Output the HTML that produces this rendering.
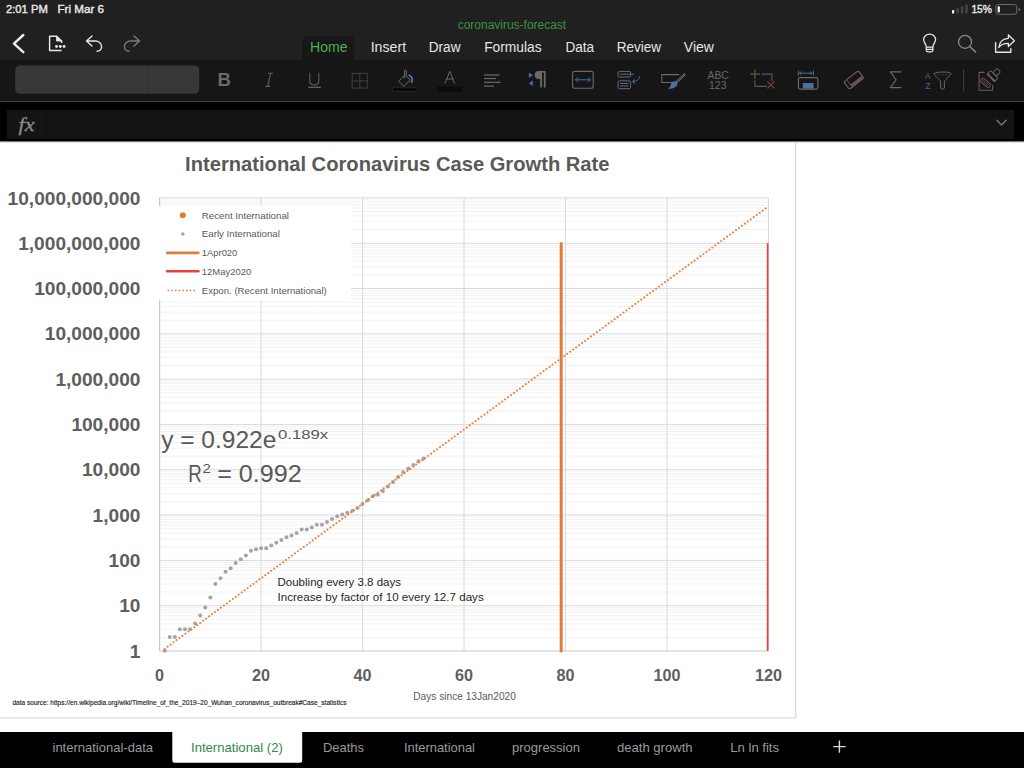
<!DOCTYPE html>
<html><head><meta charset="utf-8"><title>coronavirus-forecast</title>
<style>
html,body{margin:0;padding:0;width:1024px;height:768px;overflow:hidden;background:#fff;}
svg{position:absolute;left:0;top:0;display:block}
text{font-family:"Liberation Sans", Arial, sans-serif;}
.mn{stroke:#F2F2F2;stroke-width:1}
.mj{stroke:#D9D9D9;stroke-width:1}
.ax{stroke:#C8C8C8;stroke-width:1.2}
.ui{fill:none;stroke-linecap:round;stroke-linejoin:round}
</style></head>
<body>
<svg width="1024" height="768" viewBox="0 0 1024 768">
<defs><clipPath id="pc"><rect x="159.6" y="197.9" width="608.9" height="453.1"/></clipPath></defs>
<!-- sheet -->
<rect x="0" y="141" width="1024" height="591" fill="#fff"/>
<line x1="159.60" y1="637.36" x2="768.50" y2="637.36" class="mn"/>
<line x1="159.60" y1="629.38" x2="768.50" y2="629.38" class="mn"/>
<line x1="159.60" y1="623.72" x2="768.50" y2="623.72" class="mn"/>
<line x1="159.60" y1="619.33" x2="768.50" y2="619.33" class="mn"/>
<line x1="159.60" y1="615.74" x2="768.50" y2="615.74" class="mn"/>
<line x1="159.60" y1="612.71" x2="768.50" y2="612.71" class="mn"/>
<line x1="159.60" y1="610.08" x2="768.50" y2="610.08" class="mn"/>
<line x1="159.60" y1="607.76" x2="768.50" y2="607.76" class="mn"/>
<line x1="159.60" y1="592.05" x2="768.50" y2="592.05" class="mn"/>
<line x1="159.60" y1="584.07" x2="768.50" y2="584.07" class="mn"/>
<line x1="159.60" y1="578.41" x2="768.50" y2="578.41" class="mn"/>
<line x1="159.60" y1="574.02" x2="768.50" y2="574.02" class="mn"/>
<line x1="159.60" y1="570.43" x2="768.50" y2="570.43" class="mn"/>
<line x1="159.60" y1="567.40" x2="768.50" y2="567.40" class="mn"/>
<line x1="159.60" y1="564.77" x2="768.50" y2="564.77" class="mn"/>
<line x1="159.60" y1="562.45" x2="768.50" y2="562.45" class="mn"/>
<line x1="159.60" y1="546.74" x2="768.50" y2="546.74" class="mn"/>
<line x1="159.60" y1="538.76" x2="768.50" y2="538.76" class="mn"/>
<line x1="159.60" y1="533.10" x2="768.50" y2="533.10" class="mn"/>
<line x1="159.60" y1="528.71" x2="768.50" y2="528.71" class="mn"/>
<line x1="159.60" y1="525.12" x2="768.50" y2="525.12" class="mn"/>
<line x1="159.60" y1="522.09" x2="768.50" y2="522.09" class="mn"/>
<line x1="159.60" y1="519.46" x2="768.50" y2="519.46" class="mn"/>
<line x1="159.60" y1="517.14" x2="768.50" y2="517.14" class="mn"/>
<line x1="159.60" y1="501.43" x2="768.50" y2="501.43" class="mn"/>
<line x1="159.60" y1="493.45" x2="768.50" y2="493.45" class="mn"/>
<line x1="159.60" y1="487.79" x2="768.50" y2="487.79" class="mn"/>
<line x1="159.60" y1="483.40" x2="768.50" y2="483.40" class="mn"/>
<line x1="159.60" y1="479.81" x2="768.50" y2="479.81" class="mn"/>
<line x1="159.60" y1="476.78" x2="768.50" y2="476.78" class="mn"/>
<line x1="159.60" y1="474.15" x2="768.50" y2="474.15" class="mn"/>
<line x1="159.60" y1="471.83" x2="768.50" y2="471.83" class="mn"/>
<line x1="159.60" y1="456.12" x2="768.50" y2="456.12" class="mn"/>
<line x1="159.60" y1="448.14" x2="768.50" y2="448.14" class="mn"/>
<line x1="159.60" y1="442.48" x2="768.50" y2="442.48" class="mn"/>
<line x1="159.60" y1="438.09" x2="768.50" y2="438.09" class="mn"/>
<line x1="159.60" y1="434.50" x2="768.50" y2="434.50" class="mn"/>
<line x1="159.60" y1="431.47" x2="768.50" y2="431.47" class="mn"/>
<line x1="159.60" y1="428.84" x2="768.50" y2="428.84" class="mn"/>
<line x1="159.60" y1="426.52" x2="768.50" y2="426.52" class="mn"/>
<line x1="159.60" y1="410.81" x2="768.50" y2="410.81" class="mn"/>
<line x1="159.60" y1="402.83" x2="768.50" y2="402.83" class="mn"/>
<line x1="159.60" y1="397.17" x2="768.50" y2="397.17" class="mn"/>
<line x1="159.60" y1="392.78" x2="768.50" y2="392.78" class="mn"/>
<line x1="159.60" y1="389.19" x2="768.50" y2="389.19" class="mn"/>
<line x1="159.60" y1="386.16" x2="768.50" y2="386.16" class="mn"/>
<line x1="159.60" y1="383.53" x2="768.50" y2="383.53" class="mn"/>
<line x1="159.60" y1="381.21" x2="768.50" y2="381.21" class="mn"/>
<line x1="159.60" y1="365.50" x2="768.50" y2="365.50" class="mn"/>
<line x1="159.60" y1="357.52" x2="768.50" y2="357.52" class="mn"/>
<line x1="159.60" y1="351.86" x2="768.50" y2="351.86" class="mn"/>
<line x1="159.60" y1="347.47" x2="768.50" y2="347.47" class="mn"/>
<line x1="159.60" y1="343.88" x2="768.50" y2="343.88" class="mn"/>
<line x1="159.60" y1="340.85" x2="768.50" y2="340.85" class="mn"/>
<line x1="159.60" y1="338.22" x2="768.50" y2="338.22" class="mn"/>
<line x1="159.60" y1="335.90" x2="768.50" y2="335.90" class="mn"/>
<line x1="159.60" y1="320.19" x2="768.50" y2="320.19" class="mn"/>
<line x1="159.60" y1="312.21" x2="768.50" y2="312.21" class="mn"/>
<line x1="159.60" y1="306.55" x2="768.50" y2="306.55" class="mn"/>
<line x1="159.60" y1="302.16" x2="768.50" y2="302.16" class="mn"/>
<line x1="159.60" y1="298.57" x2="768.50" y2="298.57" class="mn"/>
<line x1="159.60" y1="295.54" x2="768.50" y2="295.54" class="mn"/>
<line x1="159.60" y1="292.91" x2="768.50" y2="292.91" class="mn"/>
<line x1="159.60" y1="290.59" x2="768.50" y2="290.59" class="mn"/>
<line x1="159.60" y1="274.88" x2="768.50" y2="274.88" class="mn"/>
<line x1="159.60" y1="266.90" x2="768.50" y2="266.90" class="mn"/>
<line x1="159.60" y1="261.24" x2="768.50" y2="261.24" class="mn"/>
<line x1="159.60" y1="256.85" x2="768.50" y2="256.85" class="mn"/>
<line x1="159.60" y1="253.26" x2="768.50" y2="253.26" class="mn"/>
<line x1="159.60" y1="250.23" x2="768.50" y2="250.23" class="mn"/>
<line x1="159.60" y1="247.60" x2="768.50" y2="247.60" class="mn"/>
<line x1="159.60" y1="245.28" x2="768.50" y2="245.28" class="mn"/>
<line x1="159.60" y1="229.57" x2="768.50" y2="229.57" class="mn"/>
<line x1="159.60" y1="221.59" x2="768.50" y2="221.59" class="mn"/>
<line x1="159.60" y1="215.93" x2="768.50" y2="215.93" class="mn"/>
<line x1="159.60" y1="211.54" x2="768.50" y2="211.54" class="mn"/>
<line x1="159.60" y1="207.95" x2="768.50" y2="207.95" class="mn"/>
<line x1="159.60" y1="204.92" x2="768.50" y2="204.92" class="mn"/>
<line x1="159.60" y1="202.29" x2="768.50" y2="202.29" class="mn"/>
<line x1="159.60" y1="199.97" x2="768.50" y2="199.97" class="mn"/>
<line x1="159.60" y1="605.69" x2="768.50" y2="605.69" class="mj"/>
<line x1="159.60" y1="560.38" x2="768.50" y2="560.38" class="mj"/>
<line x1="159.60" y1="515.07" x2="768.50" y2="515.07" class="mj"/>
<line x1="159.60" y1="469.76" x2="768.50" y2="469.76" class="mj"/>
<line x1="159.60" y1="424.45" x2="768.50" y2="424.45" class="mj"/>
<line x1="159.60" y1="379.14" x2="768.50" y2="379.14" class="mj"/>
<line x1="159.60" y1="333.83" x2="768.50" y2="333.83" class="mj"/>
<line x1="159.60" y1="288.52" x2="768.50" y2="288.52" class="mj"/>
<line x1="159.60" y1="243.21" x2="768.50" y2="243.21" class="mj"/>
<line x1="159.60" y1="197.90" x2="768.50" y2="197.90" class="mj"/>
<line x1="261.08" y1="197.90" x2="261.08" y2="651.00" class="mj"/>
<line x1="362.57" y1="197.90" x2="362.57" y2="651.00" class="mj"/>
<line x1="464.05" y1="197.90" x2="464.05" y2="651.00" class="mj"/>
<line x1="565.53" y1="197.90" x2="565.53" y2="651.00" class="mj"/>
<line x1="667.02" y1="197.90" x2="667.02" y2="651.00" class="mj"/>
<line x1="768.50" y1="197.90" x2="768.50" y2="651.00" class="mj"/>
<line x1="159.60" y1="197.90" x2="159.60" y2="651.00" class="ax"/>
<line x1="159.60" y1="651.00" x2="768.50" y2="651.00" class="ax"/>
<line x1="561.2" y1="651.00" x2="561.2" y2="243.51" stroke="#E07B39" stroke-width="3" stroke-linecap="round"/>
<line x1="768.30" y1="651.00" x2="768.30" y2="243.21" stroke="#E8413A" stroke-width="3" clip-path="url(#pc)"/>
<circle cx="164.67" cy="650.70" r="2" fill="#A5A5A5"/>
<circle cx="169.75" cy="637.09" r="2" fill="#A5A5A5"/>
<circle cx="174.82" cy="637.09" r="2" fill="#A5A5A5"/>
<circle cx="179.90" cy="629.13" r="2" fill="#A5A5A5"/>
<circle cx="184.97" cy="629.13" r="2" fill="#A5A5A5"/>
<circle cx="190.04" cy="629.13" r="2" fill="#A5A5A5"/>
<circle cx="195.12" cy="623.49" r="2" fill="#A5A5A5"/>
<circle cx="200.19" cy="615.53" r="2" fill="#A5A5A5"/>
<circle cx="205.27" cy="607.57" r="2" fill="#A5A5A5"/>
<circle cx="210.34" cy="597.54" r="2" fill="#A5A5A5"/>
<circle cx="215.42" cy="583.93" r="2" fill="#A5A5A5"/>
<circle cx="220.49" cy="578.29" r="2" fill="#A5A5A5"/>
<circle cx="225.56" cy="571.68" r="2" fill="#A5A5A5"/>
<circle cx="230.64" cy="568.16" r="2" fill="#A5A5A5"/>
<circle cx="235.71" cy="563.03" r="2" fill="#A5A5A5"/>
<circle cx="240.79" cy="559.34" r="2" fill="#A5A5A5"/>
<circle cx="245.86" cy="555.61" r="2" fill="#A5A5A5"/>
<circle cx="250.94" cy="550.83" r="2" fill="#A5A5A5"/>
<circle cx="256.01" cy="549.20" r="2" fill="#A5A5A5"/>
<circle cx="261.08" cy="548.22" r="2" fill="#A5A5A5"/>
<circle cx="266.16" cy="548.22" r="2" fill="#A5A5A5"/>
<circle cx="271.23" cy="545.55" r="2" fill="#A5A5A5"/>
<circle cx="276.31" cy="542.71" r="2" fill="#A5A5A5"/>
<circle cx="281.38" cy="540.09" r="2" fill="#A5A5A5"/>
<circle cx="286.45" cy="537.28" r="2" fill="#A5A5A5"/>
<circle cx="291.53" cy="535.43" r="2" fill="#A5A5A5"/>
<circle cx="296.60" cy="532.99" r="2" fill="#A5A5A5"/>
<circle cx="301.68" cy="529.59" r="2" fill="#A5A5A5"/>
<circle cx="306.75" cy="529.59" r="2" fill="#A5A5A5"/>
<circle cx="311.82" cy="527.49" r="2" fill="#A5A5A5"/>
<circle cx="316.90" cy="524.80" r="2" fill="#A5A5A5"/>
<circle cx="321.97" cy="524.80" r="2" fill="#A5A5A5"/>
<circle cx="327.05" cy="522.02" r="2" fill="#A5A5A5"/>
<circle cx="332.12" cy="519.00" r="2" fill="#A5A5A5"/>
<circle cx="337.20" cy="516.31" r="2" fill="#A5A5A5"/>
<circle cx="342.27" cy="514.50" r="2" fill="#A5A5A5"/>
<circle cx="347.34" cy="512.70" r="2" fill="#A5A5A5"/>
<circle cx="352.42" cy="510.80" r="2" fill="#A5A5A5"/>
<circle cx="357.49" cy="508.11" r="2" fill="#A5A5A5"/>
<circle cx="362.57" cy="504.00" r="2" fill="#A5A5A5"/>
<circle cx="367.64" cy="500.19" r="2" fill="#A5A5A5"/>
<circle cx="372.72" cy="496.30" r="2" fill="#A5A5A5"/>
<circle cx="377.79" cy="494.72" r="2" fill="#A5A5A5"/>
<circle cx="382.86" cy="491.09" r="2" fill="#A5A5A5"/>
<circle cx="387.94" cy="486.49" r="2" fill="#A5A5A5"/>
<circle cx="393.01" cy="482.11" r="2" fill="#A5A5A5"/>
<circle cx="398.09" cy="476.90" r="2" fill="#A5A5A5"/>
<circle cx="403.16" cy="472.30" r="2" fill="#A5A5A5"/>
<circle cx="408.23" cy="468.39" r="2" fill="#A5A5A5"/>
<circle cx="413.31" cy="464.90" r="2" fill="#A5A5A5"/>
<circle cx="418.38" cy="461.30" r="2" fill="#A5A5A5"/>
<circle cx="423.46" cy="458.47" r="2" fill="#A5A5A5"/>
<polyline points="164.67,648.88 167.19,647.03 169.71,645.19 172.22,643.35 174.74,641.50 177.25,639.66 179.77,637.81 182.29,635.97 184.80,634.13 187.32,632.28 189.83,630.44 192.35,628.59 194.87,626.75 197.38,624.91 199.90,623.06 202.41,621.22 204.93,619.37 207.45,617.53 209.96,615.69 212.48,613.84 214.99,612.00 217.51,610.15 220.02,608.31 222.54,606.47 225.06,604.62 227.57,602.78 230.09,600.93 232.60,599.09 235.12,597.25 237.64,595.40 240.15,593.56 242.67,591.71 245.18,589.87 247.70,588.02 250.22,586.18 252.73,584.34 255.25,582.49 257.76,580.65 260.28,578.80 262.80,576.96 265.31,575.12 267.83,573.27 270.34,571.43 272.86,569.58 275.38,567.74 277.89,565.90 280.41,564.05 282.92,562.21 285.44,560.36 287.96,558.52 290.47,556.68 292.99,554.83 295.50,552.99 298.02,551.14 300.53,549.30 303.05,547.46 305.57,545.61 308.08,543.77 310.60,541.92 313.11,540.08 315.63,538.24 318.15,536.39 320.66,534.55 323.18,532.70 325.69,530.86 328.21,529.01 330.73,527.17 333.24,525.33 335.76,523.48 338.27,521.64 340.79,519.79 343.31,517.95 345.82,516.11 348.34,514.26 350.85,512.42 353.37,510.57 355.89,508.73 358.40,506.89 360.92,505.04 363.43,503.20 365.95,501.35 368.47,499.51 370.98,497.67 373.50,495.82 376.01,493.98 378.53,492.13 381.05,490.29 383.56,488.45 386.08,486.60 388.59,484.76 391.11,482.91 393.62,481.07 396.14,479.23 398.66,477.38 401.17,475.54 403.69,473.69 406.20,471.85 408.72,470.00 411.24,468.16 413.75,466.32 416.27,464.47 418.78,462.63 421.30,460.78 423.82,458.94 426.33,457.10 428.85,455.25 431.36,453.41 433.88,451.56 436.40,449.72 438.91,447.88 441.43,446.03 443.94,444.19 446.46,442.34 448.98,440.50 451.49,438.66 454.01,436.81 456.52,434.97 459.04,433.12 461.56,431.28 464.07,429.44 466.59,427.59 469.10,425.75 471.62,423.90 474.13,422.06 476.65,420.22 479.17,418.37 481.68,416.53 484.20,414.68 486.71,412.84 489.23,410.99 491.75,409.15 494.26,407.31 496.78,405.46 499.29,403.62 501.81,401.77 504.33,399.93 506.84,398.09 509.36,396.24 511.87,394.40 514.39,392.55 516.91,390.71 519.42,388.87 521.94,387.02 524.45,385.18 526.97,383.33 529.49,381.49 532.00,379.65 534.52,377.80 537.03,375.96 539.55,374.11 542.07,372.27 544.58,370.43 547.10,368.58 549.61,366.74 552.13,364.89 554.65,363.05 557.16,361.20 559.68,359.36 562.19,357.52 564.71,355.67 567.22,353.83 569.74,351.98 572.26,350.14 574.77,348.30 577.29,346.45 579.80,344.61 582.32,342.76 584.84,340.92 587.35,339.08 589.87,337.23 592.38,335.39 594.90,333.54 597.42,331.70 599.93,329.86 602.45,328.01 604.96,326.17 607.48,324.32 610.00,322.48 612.51,320.64 615.03,318.79 617.54,316.95 620.06,315.10 622.58,313.26 625.09,311.42 627.61,309.57 630.12,307.73 632.64,305.88 635.16,304.04 637.67,302.19 640.19,300.35 642.70,298.51 645.22,296.66 647.73,294.82 650.25,292.97 652.77,291.13 655.28,289.29 657.80,287.44 660.31,285.60 662.83,283.75 665.35,281.91 667.86,280.07 670.38,278.22 672.89,276.38 675.41,274.53 677.93,272.69 680.44,270.85 682.96,269.00 685.47,267.16 687.99,265.31 690.51,263.47 693.02,261.63 695.54,259.78 698.05,257.94 700.57,256.09 703.09,254.25 705.60,252.41 708.12,250.56 710.63,248.72 713.15,246.87 715.67,245.03 718.18,243.18 720.70,241.34 723.21,239.50 725.73,237.65 728.24,235.81 730.76,233.96 733.28,232.12 735.79,230.28 738.31,228.43 740.82,226.59 743.34,224.74 745.86,222.90 748.37,221.06 750.89,219.21 753.40,217.37 755.92,215.52 758.44,213.68 760.95,211.84 763.47,209.99 765.98,208.15 768.50,206.30" fill="none" stroke="#EB8240" stroke-width="2.1" stroke-linecap="round" stroke-dasharray="0.01 3.66"/>
<rect x="156" y="206.2" width="195" height="94" fill="#fff"/>
<circle cx="182.8" cy="215.2" r="3" fill="#E07B39"/>
<circle cx="182.8" cy="234" r="1.8" fill="#A5A5A5"/>
<line x1="167.2" y1="252.9" x2="198.4" y2="252.9" stroke="#E07B39" stroke-width="2.6" stroke-linecap="round"/>
<line x1="167.2" y1="271.3" x2="198.4" y2="271.3" stroke="#E8413A" stroke-width="2.6" stroke-linecap="round"/>
<line x1="167.5" y1="290.5" x2="196" y2="290.5" stroke="#ED7D31" stroke-width="1.6" stroke-dasharray="1.6 2.1"/>
<text x="201.8" y="218.5" font-size="9.6" fill="#595959" textLength="87.2" lengthAdjust="spacingAndGlyphs">Recent International</text>
<text x="201.8" y="237.3" font-size="9.6" fill="#595959" textLength="78.1" lengthAdjust="spacingAndGlyphs">Early International</text>
<text x="201.8" y="256.2" font-size="9.6" fill="#595959" textLength="35.5" lengthAdjust="spacingAndGlyphs">1Apr020</text>
<text x="201.8" y="274.6" font-size="9.6" fill="#595959" textLength="49.4" lengthAdjust="spacingAndGlyphs">12May2020</text>
<text x="201.8" y="293.5" font-size="9.6" fill="#595959" textLength="125" lengthAdjust="spacingAndGlyphs">Expon. (Recent International)</text>
<text x="185.1" y="170.6" font-size="19.3" fill="#595959" font-weight="bold" textLength="424.4" lengthAdjust="spacingAndGlyphs">International Coronavirus Case Growth Rate</text>
<text x="140.4" y="657.60" font-size="18.9" fill="#5e5e5e" font-weight="bold" text-anchor="end" textLength="10.6" lengthAdjust="spacingAndGlyphs">1</text>
<text x="140.4" y="612.29" font-size="18.9" fill="#5e5e5e" font-weight="bold" text-anchor="end" textLength="21.2" lengthAdjust="spacingAndGlyphs">10</text>
<text x="140.4" y="566.98" font-size="18.9" fill="#5e5e5e" font-weight="bold" text-anchor="end" textLength="31.8" lengthAdjust="spacingAndGlyphs">100</text>
<text x="140.4" y="521.67" font-size="18.9" fill="#5e5e5e" font-weight="bold" text-anchor="end" textLength="47.8" lengthAdjust="spacingAndGlyphs">1,000</text>
<text x="140.4" y="476.36" font-size="18.9" fill="#5e5e5e" font-weight="bold" text-anchor="end" textLength="58.4" lengthAdjust="spacingAndGlyphs">10,000</text>
<text x="140.4" y="431.05" font-size="18.9" fill="#5e5e5e" font-weight="bold" text-anchor="end" textLength="69.0" lengthAdjust="spacingAndGlyphs">100,000</text>
<text x="140.4" y="385.74" font-size="18.9" fill="#5e5e5e" font-weight="bold" text-anchor="end" textLength="85.0" lengthAdjust="spacingAndGlyphs">1,000,000</text>
<text x="140.4" y="340.43" font-size="18.9" fill="#5e5e5e" font-weight="bold" text-anchor="end" textLength="95.6" lengthAdjust="spacingAndGlyphs">10,000,000</text>
<text x="140.4" y="295.12" font-size="18.9" fill="#5e5e5e" font-weight="bold" text-anchor="end" textLength="106.2" lengthAdjust="spacingAndGlyphs">100,000,000</text>
<text x="140.4" y="249.81" font-size="18.9" fill="#5e5e5e" font-weight="bold" text-anchor="end" textLength="122.2" lengthAdjust="spacingAndGlyphs">1,000,000,000</text>
<text x="140.4" y="204.50" font-size="18.9" fill="#5e5e5e" font-weight="bold" text-anchor="end" textLength="132.8" lengthAdjust="spacingAndGlyphs">10,000,000,000</text>
<text x="159.60" y="680.5" font-size="16.8" fill="#5e5e5e" font-weight="bold" text-anchor="middle" textLength="9.0" lengthAdjust="spacingAndGlyphs">0</text>
<text x="261.08" y="680.5" font-size="16.8" fill="#5e5e5e" font-weight="bold" text-anchor="middle" textLength="18.0" lengthAdjust="spacingAndGlyphs">20</text>
<text x="362.57" y="680.5" font-size="16.8" fill="#5e5e5e" font-weight="bold" text-anchor="middle" textLength="18.0" lengthAdjust="spacingAndGlyphs">40</text>
<text x="464.05" y="680.5" font-size="16.8" fill="#5e5e5e" font-weight="bold" text-anchor="middle" textLength="18.0" lengthAdjust="spacingAndGlyphs">60</text>
<text x="565.53" y="680.5" font-size="16.8" fill="#5e5e5e" font-weight="bold" text-anchor="middle" textLength="18.0" lengthAdjust="spacingAndGlyphs">80</text>
<text x="667.02" y="680.5" font-size="16.8" fill="#5e5e5e" font-weight="bold" text-anchor="middle" textLength="27.0" lengthAdjust="spacingAndGlyphs">100</text>
<text x="768.50" y="680.5" font-size="16.8" fill="#5e5e5e" font-weight="bold" text-anchor="middle" textLength="27.0" lengthAdjust="spacingAndGlyphs">120</text>
<text x="413.3" y="700.2" font-size="10" fill="#595959" textLength="102.5" lengthAdjust="spacingAndGlyphs">Days since 13Jan2020</text>
<text x="161.2" y="447.8" font-size="23.7" fill="#595959" textLength="115.1" lengthAdjust="spacingAndGlyphs">y = 0.922e</text>
<text x="278" y="439.3" font-size="13.4" fill="#595959" textLength="50.1" lengthAdjust="spacingAndGlyphs">0.189x</text>
<text x="188.2" y="481.9" font-size="23.7" fill="#595959" textLength="13.5" lengthAdjust="spacingAndGlyphs">R</text>
<text x="202.5" y="472.7" font-size="13.4" fill="#595959" textLength="8.4" lengthAdjust="spacingAndGlyphs">2</text>
<text x="217.2" y="481.9" font-size="23.7" fill="#595959" textLength="84.5" lengthAdjust="spacingAndGlyphs">= 0.992</text>
<text x="277.5" y="586.1" font-size="11" fill="#262626" textLength="123.5" lengthAdjust="spacingAndGlyphs">Doubling every 3.8 days</text>
<text x="277.5" y="601.1" font-size="11" fill="#262626" textLength="206.2" lengthAdjust="spacingAndGlyphs">Increase by factor of 10 every 12.7 days</text>
<text x="12.4" y="704.7" font-size="6.9" fill="#1e1e1e" textLength="334.1" lengthAdjust="spacingAndGlyphs" stroke="#1e1e1e" stroke-width="0.15">data source: https://en.wikipedia.org/wiki/Timeline_of_the_2019–20_Wuhan_coronavirus_outbreak#Case_statistics</text>
<path d="M-2,141 V717.9 H795.7 V141" fill="none" stroke="#DCDCDC" stroke-width="1.3"/>
<!-- top bars -->
<rect x="0" y="0" width="1024" height="60" fill="#202020"/>
<rect x="0" y="60" width="1024" height="41" fill="#161616"/>
<rect x="0" y="101" width="1024" height="1" fill="#424242"/>
<rect x="0" y="102" width="1024" height="39" fill="#000"/>
<rect x="7" y="110" width="1007" height="28.8" fill="#141414"/>
<rect x="46" y="112" width="1" height="24" fill="#0d0d0d"/>
<text x="5.9" y="12.9" font-size="11.3" fill="#e8e8e8" textLength="42" lengthAdjust="spacingAndGlyphs" stroke="#e8e8e8" stroke-width="0.4">2:01 PM</text>
<text x="57.4" y="12.9" font-size="11.3" fill="#e8e8e8" textLength="46.6" lengthAdjust="spacingAndGlyphs" stroke="#e8e8e8" stroke-width="0.4">Fri Mar 6</text>
<text x="971.4" y="12.9" font-size="11.3" fill="#e8e8e8" textLength="20.6" lengthAdjust="spacingAndGlyphs" stroke="#e8e8e8" stroke-width="0.4">15%</text>
<rect x="952" y="10" width="2.2" height="3.4" rx="0.5" fill="#f0f0f0"/>
<rect x="956.5" y="8.2" width="2.2" height="5.2" rx="0.5" fill="#4a4a4a"/>
<rect x="961" y="6.4" width="2.2" height="7" rx="0.5" fill="#4a4a4a"/>
<rect x="965.4" y="4.6" width="2.2" height="8.8" rx="0.5" fill="#4a4a4a"/>
<rect x="995.8" y="4.5" width="21" height="9.8" rx="2.6" fill="none" stroke="#6a6a6a" stroke-width="1"/>
<rect x="997.6" y="6.3" width="2.3" height="6.2" rx="0.8" fill="#f0f0f0"/>
<path d="M1018.6,7.8 v3.2 a1.6,1.6 0 0 0 0,-3.2z" fill="#6a6a6a"/>
<text x="457.7" y="29" font-size="12" fill="#3b9142" textLength="108.5" lengthAdjust="spacingAndGlyphs">coronavirus-forecast</text>
<path class="ui" d="M23.3,35 L14,43.6 L23.3,52.2" stroke="#ececec" stroke-width="2.5"/>
<path d="M61.6,43 V41 L56.6,36.3 H49.6 V50.5 H61.6" fill="none" stroke="#e6e6e6" stroke-width="1.45" stroke-linejoin="round"/>
<path d="M56.6,36.3 L61.6,41 H56.6Z" fill="#e6e6e6" stroke="#e6e6e6" stroke-width="1" stroke-linejoin="round"/>
<circle cx="56.5" cy="46.5" r="1.45" fill="#e6e6e6"/><circle cx="60.3" cy="46.5" r="1.45" fill="#e6e6e6"/><circle cx="64.1" cy="46.5" r="1.45" fill="#e6e6e6"/>
<path class="ui" d="M92,36 L86.5,41 L92,46 M86.8,41 H95.5 C99,41 101.6,43.6 101.6,46.6 C101.6,49.5 99.5,51.3 97,51.3" stroke="#e6e6e6" stroke-width="1.4"/>
<path class="ui" d="M134,36 L139.5,41 L134,46 M139.2,41 H130.5 C127,41 124.4,43.6 124.4,46.6 C124.4,49.5 126.5,51.3 129,51.3" stroke="#7a7a7a" stroke-width="1.4"/>
<path d="M302.3,60 V41.1 a5,5 0 0 1 5,-5 H349.1 a5,5 0 0 1 5,5 V60z" fill="#171717"/>
<text x="310" y="52" font-size="14" fill="#4caf50" textLength="37.5" lengthAdjust="spacingAndGlyphs">Home</text>
<text x="370.7" y="52" font-size="14" fill="#e6e6e6" textLength="35.4" lengthAdjust="spacingAndGlyphs">Insert</text>
<text x="428.7" y="52" font-size="14" fill="#e6e6e6" textLength="31.9" lengthAdjust="spacingAndGlyphs">Draw</text>
<text x="484.2" y="52" font-size="14" fill="#e6e6e6" textLength="57.4" lengthAdjust="spacingAndGlyphs">Formulas</text>
<text x="565.4" y="52" font-size="14" fill="#e6e6e6" textLength="28.7" lengthAdjust="spacingAndGlyphs">Data</text>
<text x="616.8" y="52" font-size="14" fill="#e6e6e6" textLength="44.3" lengthAdjust="spacingAndGlyphs">Review</text>
<text x="683.8" y="52" font-size="14" fill="#e6e6e6" textLength="30.1" lengthAdjust="spacingAndGlyphs">View</text>
<path class="ui" d="M926.3,47.2 C926.3,44 923.6,42.5 923.6,39.6 C923.6,36.4 926.3,34.2 929.6,34.2 C932.9,34.2 935.6,36.4 935.6,39.6 C935.6,42.5 932.9,44 932.9,47.2 Z M926.3,47.2 V50.3 C926.3,51.3 927,51.8 928,51.8 H931.2 C932.2,51.8 932.9,51.3 932.9,50.3 V47.2 M926.3,49.3 H932.9" stroke="#e6e6e6" stroke-width="1.3"/>
<circle cx="965" cy="41.8" r="6.5" fill="none" stroke="#8a8a8a" stroke-width="1.3"/><path class="ui" d="M969.8,46.6 L975.6,52" stroke="#8a8a8a" stroke-width="1.5"/>
<path class="ui" d="M995.6,42.6 V52.3 H1010.8 V48.8" stroke="#e6e6e6" stroke-width="1.4" stroke-linecap="butt"/>
<path class="ui" d="M1008.4,35 L1014.4,40.8 L1008.4,46.5 V43.3 C1003.5,43.3 1000.4,44.5 998.8,47.5 C999.4,42 1002.6,38.6 1008.4,38.3 Z" stroke="#e6e6e6" stroke-width="1.3"/>
<rect x="15.2" y="65.5" width="184" height="28.2" rx="4.5" fill="#383838"/>
<rect x="147" y="65.5" width="0.8" height="28.2" fill="#2e2e2e"/>
<text x="217.6" y="86.2" font-size="18.6" fill="#6a6a6a" font-weight="bold">B</text>
<path class="ui" d="M268.5,73.2 h4 M270.5,73.2 L267.8,86.4 M265.8,86.4 h4" stroke="#5e5e5e" stroke-width="1.1"/>
<path class="ui" d="M309.8,73 V80.5 C309.8,83.5 311.8,85 314.3,85 C316.8,85 318.8,83.5 318.8,80.5 V73" stroke="#5e5e5e" stroke-width="1.1"/>
<rect x="308.2" y="86.6" width="12.6" height="1.4" fill="#5e5e5e"/>
<path d="M352.2,73.4 H367.4 V88.2 H352.2 Z M359.8,73.4 V88.2 M352.2,80.8 H367.4" fill="none" stroke="#505050" stroke-width="1.2" stroke-dasharray="1.1 0.9"/>
<path class="ui" d="M404,76 L398.6,81.2 L403.9,86.4 L410.2,80 L406.2,76" stroke="#6a6a6a" stroke-width="1"/>
<path class="ui" d="M404.6,78 V70.8 C404.6,69.6 406.3,69.6 406.3,70.8 V76.2" stroke="#6a6a6a" stroke-width="1"/>
<path class="ui" d="M409.3,75.2 C411.8,76.8 412.8,79.5 411.6,82.2" stroke="#4c78b0" stroke-width="1.8"/>
<rect x="392.3" y="87.2" width="25.2" height="4.4" rx="1.2" fill="#0a0a0a" stroke="#303030" stroke-width="0.8"/>
<path class="ui" d="M445.2,83 L449.8,71.3 L454.5,83 M446.8,79 H452.8" stroke="#6a6a6a" stroke-width="1"/>
<rect x="437" y="86.4" width="25.7" height="5.4" rx="1" fill="#0c0c0c"/>
<rect x="484" y="74.4" width="15.5" height="1.2" fill="#6a6a6a"/>
<rect x="484" y="77.9" width="12" height="1.2" fill="#6a6a6a"/>
<rect x="484" y="81.7" width="16.5" height="1.2" fill="#6a6a6a"/>
<rect x="484" y="85.5" width="10" height="1.2" fill="#6a6a6a"/>
<path d="M528.9,72.4 L532.8,75.2 L528.9,77.9Z M532.8,80.4 L528.9,83.2 L532.8,86Z" fill="#4a6fa0"/>
<path d="M545.8,71 H538.6 C536,71 534.6,72.8 534.6,75 C534.6,77.2 536,79 538.6,79 H540.2 V87.4 H542 V72.6 H543.8 V87.4 H545.6 V71Z" fill="#6a6a6a"/>
<rect x="572.6" y="71.4" width="20.6" height="16.8" rx="2" fill="none" stroke="#6a6a6a" stroke-width="1.1"/>
<path class="ui" d="M575.5,79.8 H590.4 M577.8,77.7 L575.5,79.8 L577.8,81.9 M588.1,77.7 L590.4,79.8 L588.1,81.9" stroke="#4a6fa0" stroke-width="1"/>
<rect x="618" y="71.4" width="12.6" height="5.6" rx="1.5" fill="none" stroke="#6a6a6a" stroke-width="1"/>
<rect x="618" y="80.8" width="12.6" height="7.9" rx="1.5" fill="none" stroke="#6a6a6a" stroke-width="1"/>
<path d="M620,74.2 H634 M620,83.4 H628.5 M620,86 H628.5" stroke="#4a6fa0" stroke-width="1"/>
<path class="ui" d="M639.6,76.5 C639.6,79.5 637,81.3 632.7,81.6 M634.8,79.6 L632.6,81.6 L634.8,83.6" stroke="#4a6fa0" stroke-width="1"/>
<path class="ui" d="M675.4,82.5 H661.8 V74.6 H678.8" stroke="#6a6a6a" stroke-width="1.1"/>
<path class="ui" d="M684.4,74.6 L676.3,82.4" stroke="#6a6a6a" stroke-width="2.3"/><path d="M683.6,75.4 L677,81.7" stroke="#161616" stroke-width="0.7"/>
<path d="M674.5,81.2 C677.4,81.5 678.3,84 676.6,86.1 C675,88.2 671.6,88.9 668,88.9 C670.3,87.6 670.4,85.6 671.2,83.6 C671.9,81.9 673,81.1 674.5,81.2Z" fill="#4a6fa0"/>
<text x="707.5" y="78.8" font-size="10.5" fill="#6a6a6a" textLength="21.3" lengthAdjust="spacingAndGlyphs">ABC</text>
<text x="709" y="88.9" font-size="10.5" fill="#6a6a6a" textLength="17.5" lengthAdjust="spacingAndGlyphs">123</text>
<path d="M750,74.1 H759.8 M754.9,69.2 V79" stroke="#4a6b36" stroke-width="1.1"/>
<path class="ui" d="M754.9,80.6 V86.4 H766.4 M762,74.1 H771.9 V80.8" stroke="#5a5a5a" stroke-width="1.1"/>
<path d="M767.4,81.3 L774.4,88.3 M774.4,81.3 L767.4,88.3" stroke="#84403c" stroke-width="1.1"/>
<path d="M798.3,70.7 V75.7 M813.4,70.7 V75.7 M799.5,73.2 H812.2 M801.4,71.6 L799.6,73.2 L801.4,74.8 M810.3,71.6 L812.1,73.2 L810.3,74.8" fill="none" stroke="#4a6fa0" stroke-width="1"/>
<rect x="798.4" y="77.6" width="19.5" height="11.5" rx="1.8" fill="none" stroke="#6a6a6a" stroke-width="1.1"/>
<rect x="802.8" y="83" width="10.8" height="5.6" fill="#4a6fa0"/>
<g transform="rotate(-38 853.8 80)"><rect x="844.6" y="75.3" width="18.4" height="9.4" rx="2.2" fill="none" stroke="#7d5862" stroke-width="1.1"/><path d="M848.4,81.6 H862.6 V82.6 a2,2 0 0 1 -2,2 H848.4Z" fill="#6e4f58"/><path d="M848.3,75.8 V84.4" stroke="#7d5862" stroke-width="0.8"/></g>
<path class="ui" d="M901,71.9 H890.3 L896.2,79.8 L890.3,87.6 H901" stroke="#6a6a6a" stroke-width="1.1"/>
<text x="925.1" y="78.6" font-size="8.2" fill="#5a7a2e">A</text>
<text x="925.5" y="89.3" font-size="8.2" fill="#6a5a9a">Z</text>
<path class="ui" d="M934.2,73.5 C934.2,71.5 950.9,71.5 950.9,73.5 C950.9,76 944.4,80 944.4,81.5 V88 C944.4,89.4 940.6,89.4 940.6,88 V81.5 C940.6,80 934.2,76 934.2,73.5Z" stroke="#6a6a6a" stroke-width="1"/>
<path d="M936.5,74.8 H948.6" stroke="#3a3a3a" stroke-width="0.8"/>
<rect x="963" y="69" width="1.1" height="22.5" fill="#3a3a3a"/>
<path class="ui" d="M984.2,72.4 H979.1 V90.3 H992.6 V85.6" stroke="#626262" stroke-width="1.1"/>
<g transform="rotate(40 985.6 82.9)"><rect x="980.1" y="80.5" width="11" height="4.8" rx="2" fill="none" stroke="#74525c" stroke-width="1"/><rect x="982.1" y="82.2" width="7" height="1.4" rx="0.7" fill="none" stroke="#74525c" stroke-width="0.7"/></g>
<g transform="rotate(45 992.6 76)"><rect x="990.2" y="67.3" width="5.2" height="6.2" rx="1.8" fill="none" stroke="#626262" stroke-width="1"/><rect x="987.2" y="73.5" width="10.8" height="4.9" rx="1.6" fill="none" stroke="#626262" stroke-width="1"/><rect x="986.8" y="77.2" width="11.6" height="1.9" rx="0.9" fill="#80586a"/></g>
<text x="18.6" y="130.6" font-size="19.5" fill="#8a8a8a" stroke="#8a8a8a" stroke-width="0.35" font-style="italic" textLength="16" lengthAdjust="spacingAndGlyphs" style="font-family:'Liberation Serif',serif">fx</text>
<path class="ui" d="M996.8,120.2 L1001.5,125 L1006.2,120.2" stroke="#7a7a7a" stroke-width="1.3"/>
<rect x="0" y="141" width="1024" height="1" fill="#7a7a7a"/><rect x="0" y="142" width="1024" height="1" fill="#e2e2e2"/>
<!-- bottom tabs -->
<rect x="0" y="732" width="1024" height="36" fill="#000"/>
<path d="M172.3,731 H302.2 V760.5 a2.3,2.3 0 0 1 -2.3,2.3 H174.6 a2.3,2.3 0 0 1 -2.3,-2.3Z" fill="#fff"/>
<text x="52.5" y="751.8" font-size="13" fill="#9a9a9a" textLength="100.5" lengthAdjust="spacingAndGlyphs">international-data</text>
<text x="191" y="751.8" font-size="13" fill="#2f8a4a" textLength="91.8" lengthAdjust="spacingAndGlyphs">International (2)</text>
<text x="323" y="751.8" font-size="13" fill="#9a9a9a" textLength="41" lengthAdjust="spacingAndGlyphs">Deaths</text>
<text x="403.9" y="751.8" font-size="13" fill="#9a9a9a" textLength="71.1" lengthAdjust="spacingAndGlyphs">International</text>
<text x="512" y="751.8" font-size="13" fill="#9a9a9a" textLength="68" lengthAdjust="spacingAndGlyphs">progression</text>
<text x="617" y="751.8" font-size="13" fill="#9a9a9a" textLength="75.6" lengthAdjust="spacingAndGlyphs">death growth</text>
<text x="730.3" y="751.8" font-size="13" fill="#9a9a9a" textLength="48.7" lengthAdjust="spacingAndGlyphs">Ln ln fits</text>
<path d="M833.2,746.6 H845.6 M839.4,740.4 V752.8" stroke="#d8d8d8" stroke-width="1.4"/>
</svg>
</body></html>
